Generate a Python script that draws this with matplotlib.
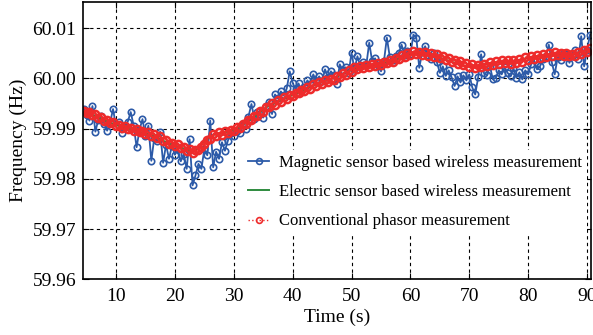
import numpy as np
import matplotlib
matplotlib.use("Agg")
import matplotlib.pyplot as plt

# time axis (s), one sample every 0.5 s
t_start, t_step, n_pts = 4.5, 0.5, 173
time_s = t_start + t_step * np.arange(n_pts)

# frequency deviation from 60 Hz, in mHz
magnetic_mhz = [
    -6.0, -7.2, -8.4, -5.5, -10.6, -8.2, -7.5, -9.0, -10.4, -8.8,
    -6.1, -9.5, -8.7, -10.8, -9.6, -8.6, -6.7, -9.4, -13.7, -10.2,
    -8.1, -11.5, -9.4, -16.4, -11.8, -12.5, -10.6, -16.8, -13.2, -16.0,
    -13.4, -15.2, -14.1, -16.5, -15.0, -18.0, -12.1, -21.3, -19.3, -17.0,
    -18.0, -14.1, -15.3, -8.4, -17.7, -14.6, -16.0, -12.7, -14.4, -12.4,
    -10.8, -11.5, -10.4, -10.8, -9.2, -10.0, -7.6, -5.1, -8.0, -6.6,
    -7.0, -7.8, -5.4, -4.6, -7.1, -3.2, -4.0, -2.6, -3.4, -2.0,
    1.4, -0.9, -2.2, -1.0, -2.6, -1.8, -0.4, -1.2, 0.8, -0.5,
    0.4, -0.6, 1.8, 0.2, 1.4, 0.6, -1.2, 2.8, 1.6, 2.2,
    1.0, 5.1, 1.8, 4.4, 2.4, 3.2, 2.6, 7.1, 3.4, 4.0,
    2.6, 1.4, 3.4, 8.1, 4.2, 3.6, 4.4, 5.0, 6.7, 4.6,
    5.4, 4.8, 8.7, 8.1, 2.1, 5.2, 6.4, 4.6, 3.8, 5.0,
    3.2, 1.1, 2.4, 0.5, 1.6, 0.2, -1.5, 0.4, -0.8, 0.6,
    -0.4, 0.8, -1.8, -3.2, 0.2, 4.8, 1.0, 0.6, 2.4, -0.2,
    0.1, 1.6, 0.8, 2.2, 1.1, 0.4, 2.0, 0.1, 1.2, -0.2,
    1.6, 0.8, 2.8, 3.6, 1.8, 2.4, 3.8, 4.4, 6.7, 3.2,
    0.8, 4.2, 3.6, 5.1, 4.8, 3.1, 4.4, 5.6, 3.8, 8.4,
    2.4, 5.7, 8.7,
]

conventional_mhz = [
    -6.4, -6.8, -6.7, -7.3, -7.1, -7.8, -7.7, -8.4, -8.2, -8.8,
    -8.7, -9.4, -9.2, -9.8, -9.5, -10.1, -9.8, -10.4, -10.1, -10.6,
    -10.4, -11.0, -10.7, -11.5, -11.1, -11.9, -11.5, -12.4, -12.2, -13.0,
    -12.8, -13.5, -13.1, -13.9, -13.6, -14.5, -14.1, -14.9, -14.3, -14.2,
    -13.6, -13.1, -12.2, -12.0, -11.0, -11.4, -10.7, -11.2, -10.5, -10.9,
    -10.2, -10.5, -9.7, -9.8, -9.0, -9.1, -8.2, -8.3, -7.4, -7.5,
    -6.5, -6.6, -5.6, -5.7, -4.9, -5.2, -4.3, -4.6, -3.8, -4.1,
    -3.4, -3.6, -2.9, -3.0, -2.3, -2.6, -1.8, -2.1, -1.2, -1.5,
    -0.8, -1.1, -0.4, -0.7, -0.1, -0.4, 0.4, 0.2, 1.0, 0.7,
    1.6, 1.3, 2.2, 1.8, 2.4, 2.0, 2.7, 2.2, 2.9, 2.4,
    3.1, 2.7, 3.3, 3.0, 3.6, 3.3, 4.0, 3.8, 4.6, 4.3,
    5.1, 4.6, 5.4, 4.8, 5.3, 4.7, 5.2, 4.5, 5.0, 4.3,
    4.8, 4.0, 4.5, 3.7, 4.1, 3.3, 3.7, 2.9, 3.4, 2.6,
    3.0, 2.3, 2.8, 2.1, 2.7, 2.2, 2.9, 2.4, 3.2, 2.7,
    3.4, 2.9, 3.6, 3.0, 3.6, 2.9, 3.7, 3.1, 3.9, 3.3,
    4.2, 3.7, 4.5, 3.9, 4.7, 4.1, 4.9, 4.3, 5.1, 4.5,
    5.2, 4.6, 5.1, 4.5, 5.0, 4.4, 4.9, 4.5, 5.3, 4.9,
    5.7, 5.3, 6.0,
]

# electric sensor trace, every 1 s (t = 5 ... 90), mostly hidden under the red one
electric_time = np.arange(5, 91, 1.0)
electric_mhz = [
    -6.5, -7.2, -7.8, -8.3, -8.8, -9.3, -9.6, -10.0, -10.2, -10.6,
    -11.0, -11.3, -11.8, -12.4, -13.0, -13.4, -13.7, -14.2, -14.5, -13.9,
    -12.5, -11.6, -11.0, -10.8, -10.6, -10.3, -9.7, -8.9, -8.0, -7.2,
    -6.2, -5.4, -4.9, -4.3, -3.8, -3.3, -2.8, -2.3, -1.7, -1.2,
    -0.7, -0.3, 0.1, 0.6, 1.2, 1.7, 2.0, 2.3, 2.5, 2.7,
    3.0, 3.2, 3.5, 4.0, 4.5, 4.9, 5.0, 4.9, 4.7, 4.4,
    4.1, 3.7, 3.3, 2.9, 2.5, 2.4, 2.4, 2.6, 2.9, 3.1,
    3.3, 3.3, 3.3, 3.5, 3.8, 4.1, 4.3, 4.5, 4.7, 4.9,
    4.8, 4.7, 4.7, 4.9, 5.3, 5.6,
]

magnetic = 60 + np.array(magnetic_mhz) / 1000
conventional = 60 + np.array(conventional_mhz) / 1000
electric = 60 + np.array(electric_mhz) / 1000

yticks = [59.96, 59.97, 59.98, 59.99, 60.00, 60.01]
ytick_labels = ["59.96", "59.97", "59.98", "59.99", "60.00", "60.01"]
xticks = [10, 20, 30, 40, 50, 60, 70, 80, 90]

plt.rcParams["font.family"] = ["Liberation Serif", "DejaVu Serif"]

fig = plt.figure(figsize=(5.93, 3.35), dpi=100)
ax = fig.add_axes([0.140, 0.166, 0.856, 0.828])

ax.plot(time_s, magnetic, color="#2c5aa8", lw=1.3, marker="o", ms=4.6,
        mfc="none", mew=1.2, label="Magnetic sensor based wireless measurement")
ax.plot(electric_time, electric, color="#2e8b3e", lw=1.4,
        label="Electric sensor based wireless measurement")
ax.plot(time_s, conventional, color="#ee2b2b", lw=1.0, ls=":", marker="o", ms=5.2,
        mfc="none", mew=1.8, label="Conventional phasor measurement")

ax.set_xlim(4.4, 90.6)
ax.set_ylim(59.96, 60.0152)
ax.set_xticks(xticks)
ax.set_yticks(yticks)
ax.set_yticklabels(ytick_labels)
ax.tick_params(direction="in", top=True, right=True, labelsize=14, length=4, pad=5)
ax.tick_params(axis="x", pad=6)
ax.grid(True, color="black", ls=(0, (3, 3)), lw=0.8)
for s in ax.spines.values():
    s.set_linewidth(1.2)

ax.set_xlabel("Time (s)", fontsize=14, labelpad=3)
ax.set_ylabel("Frequency (Hz)", fontsize=14, labelpad=4)

leg = ax.legend(loc="lower right", bbox_to_anchor=(1.0, 0.15), fontsize=12,
                frameon=True, fancybox=False, edgecolor="none", facecolor="white",
                framealpha=1.0, handlelength=1.25, handletextpad=0.6,
                labelspacing=0.8, borderpad=0.3, borderaxespad=0.2)
for h in leg.legend_handles:
    h.set_markersize(4.2)
    h.set_markeredgewidth(1.2)

fig.savefig("out.png", dpi=100)
